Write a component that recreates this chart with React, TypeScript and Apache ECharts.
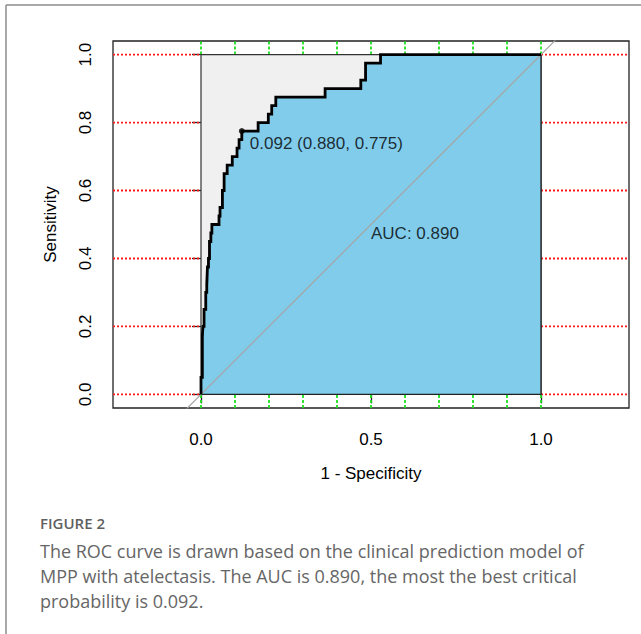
import React, { useEffect, useRef } from "react";
import * as echarts from "echarts";

// ROC curve vertices (1 - specificity, sensitivity)
const rocFpr = [0, 0, 0.004, 0.004, 0.006, 0.006, 0.009, 0.009, 0.014, 0.014, 0.017, 0.017, 0.019, 0.019, 0.022, 0.022, 0.025, 0.025, 0.029, 0.029, 0.032, 0.032, 0.053, 0.053, 0.056, 0.056, 0.063, 0.063, 0.068, 0.068, 0.077, 0.077, 0.092, 0.092, 0.106, 0.106, 0.112, 0.112, 0.12, 0.12, 0.168, 0.168, 0.198, 0.198, 0.208, 0.208, 0.22, 0.22, 0.365, 0.365, 0.47, 0.47, 0.484, 0.484, 0.528, 0.528, 1];
const rocTpr = [0, 0.05, 0.05, 0.175, 0.175, 0.2, 0.2, 0.25, 0.25, 0.3, 0.3, 0.325, 0.325, 0.375, 0.375, 0.4, 0.4, 0.45, 0.45, 0.475, 0.475, 0.5, 0.5, 0.525, 0.525, 0.55, 0.55, 0.6, 0.6, 0.65, 0.65, 0.675, 0.675, 0.7, 0.7, 0.725, 0.725, 0.75, 0.75, 0.775, 0.775, 0.8, 0.8, 0.825, 0.825, 0.85, 0.85, 0.875, 0.875, 0.9, 0.9, 0.925, 0.925, 0.975, 0.975, 1, 1];

// max AUC square
const squareX = [0, 0, 1, 1];
const squareY = [0, 1, 1, 0];

// best threshold
const bestThreshold = 0.092;
const bestSpecificity = 0.88;
const bestSensitivity = 0.775;
const aucValue = 0.89;

// ticks and grid
const xTickValues = [0, 0.5, 1.0];
const yTickValues = [0, 0.2, 0.4, 0.6, 0.8, 1.0];
const xGridValues = [0, 0.1, 0.2, 0.3, 0.4, 0.5, 0.6, 0.7, 0.8, 0.9, 1.0];
const yGridValues = [0, 0.2, 0.4, 0.6, 0.8, 1.0];
const diagonalX = [-0.2, 1.2];

const xAxisTitle = "1 - Specificity";
const yAxisTitle = "Sensitivity";

const captionTitle = "FIGURE 2";
const captionLines = [
  "The ROC curve is drawn based on the clinical prediction model of",
  "MPP with atelectasis. The AUC is 0.890, the most the best critical",
  "probability is 0.092.",
];

const X_MIN = -0.2588;
const X_MAX = 1.2588;
const Y_MIN = -0.04;
const Y_MAX = 1.04;

export default function App() {
  const ref = useRef<HTMLDivElement>(null);

  useEffect(() => {
    document.body.style.margin = "0";
    const chart = echarts.init(ref.current!, null, { renderer: "svg" });
    const FONT = "'Liberation Sans', Arial, sans-serif";
    const CAP_FONT = "'Open Sans', 'Noto Sans', sans-serif";

    // grid lines: the max-AUC square hides their middle part, so only the
    // visible pieces outside the unit square are drawn
    const gridSeries: any[] = [];
    const redStyle = { color: "#ff1a1a", width: 1.8, type: [2, 2] };
    const greenStyle = { color: "#1ee01e", width: 1.8, type: [3, 2] };
    yGridValues.forEach((v) => {
      [[[X_MIN, v], [0, v]], [[1, v], [X_MAX, v]]].forEach((seg) => {
        gridSeries.push({
          type: "line",
          data: seg,
          symbol: "none",
          silent: true,
          z: 1,
          lineStyle: redStyle,
        });
      });
    });
    xGridValues.forEach((v) => {
      [[[v, Y_MIN], [v, 0]], [[v, 1], [v, Y_MAX]]].forEach((seg) => {
        gridSeries.push({
          type: "line",
          data: seg,
          symbol: "none",
          silent: true,
          z: 1,
          lineStyle: greenStyle,
        });
      });
    });

    const polyXs = [...rocFpr, 1];
    const polyYs = [...rocTpr, 0];

    const option: any = {
      animation: false,
      backgroundColor: "#ffffff",
      grid: {
        left: 113,
        top: 41,
        width: 516,
        height: 367,
        show: true,
        borderColor: "#222",
        borderWidth: 1.3,
        backgroundColor: "transparent",
      },
      xAxis: {
        type: "value",
        min: X_MIN,
        max: X_MAX,
        axisLine: { show: false },
        splitLine: { show: false },
        axisTick: {
          show: true,
          inside: false,
          length: 9,
          customValues: xTickValues,
          lineStyle: { color: "#222", width: 1.3 },
        },
        axisLabel: {
          customValues: xTickValues,
          formatter: (v: number) => v.toFixed(1),
          fontSize: 17,
          fontFamily: FONT,
          color: "#000",
          margin: 23,
        },
        name: xAxisTitle,
        nameLocation: "middle",
        nameGap: 57,
        nameTextStyle: { fontSize: 17, fontFamily: FONT, color: "#000" },
      },
      yAxis: {
        type: "value",
        min: Y_MIN,
        max: Y_MAX,
        axisLine: { show: false },
        splitLine: { show: false },
        axisTick: {
          show: true,
          inside: false,
          length: 9,
          customValues: yTickValues,
          lineStyle: { color: "#222", width: 1.3 },
        },
        axisLabel: {
          customValues: yTickValues,
          formatter: (v: number) => v.toFixed(1),
          fontSize: 17,
          fontFamily: FONT,
          color: "#000",
          rotate: 90,
          margin: 19,
        },
        name: yAxisTitle,
        nameLocation: "middle",
        nameGap: 54,
        nameTextStyle: { fontSize: 17, fontFamily: FONT, color: "#000" },
      },
      series: [
        ...gridSeries,
        {
          type: "custom",
          z: 2,
          silent: true,
          data: [[0, 0]],
          renderItem: (_p: any, api: any) => {
            const pts = squareX.map((x, i) => api.coord([x, squareY[i]]));
            return {
              type: "polygon",
              shape: { points: pts },
              style: { fill: "#f0f0f0", stroke: "#333", lineWidth: 1.2 },
            };
          },
        },
        {
          type: "custom",
          z: 3,
          silent: true,
          data: [[0, 0]],
          renderItem: (_p: any, api: any) => {
            const pts = polyXs.map((x, i) => api.coord([x, polyYs[i]]));
            return {
              type: "polygon",
              shape: { points: pts },
              style: { fill: "#82cceb", stroke: "#222", lineWidth: 1.3 },
            };
          },
        },
        {
          type: "line",
          z: 4,
          silent: true,
          symbol: "none",
          data: diagonalX.map((x) => [x, x]),
          lineStyle: { color: "#a6a6a6", width: 1.2 },
        },
        {
          type: "line",
          z: 5,
          silent: true,
          symbol: "none",
          data: rocFpr.map((x, i) => [x, rocTpr[i]]),
          lineStyle: { color: "#000", width: 2.8, join: "miter" },
        },
        {
          type: "scatter",
          z: 6,
          silent: true,
          symbol: "circle",
          symbolSize: 6,
          itemStyle: { color: "#000" },
          data: [[1 - bestSpecificity, bestSensitivity]],
          label: {
            show: true,
            position: [11, 7],
            align: "left",
            verticalAlign: "top",
            fontSize: 17,
            fontFamily: FONT,
            color: "#000",
            formatter: () =>
              `${bestThreshold.toFixed(3)} (${bestSpecificity.toFixed(3)}, ${bestSensitivity.toFixed(3)})`,
          },
        },
        {
          type: "scatter",
          z: 6,
          silent: true,
          symbolSize: 0,
          data: [[0.5, 0.5]],
          label: {
            show: true,
            position: [0, 0],
            align: "left",
            verticalAlign: "top",
            fontSize: 17,
            fontFamily: FONT,
            color: "#000",
            formatter: () => `AUC: ${aucValue.toFixed(3)}`,
          },
        },
      ],
      graphic: [
        {
          type: "line",
          shape: { x1: 6, y1: 5, x2: 641, y2: 5 },
          style: { stroke: "#8c8c8c", lineWidth: 1.5 },
        },
        {
          type: "line",
          shape: { x1: 6, y1: 5, x2: 6, y2: 634 },
          style: { stroke: "#8c8c8c", lineWidth: 1.5 },
        },
        {
          type: "text",
          x: 40,
          y: 523,
          style: {
            text: captionTitle,
            font: `600 15px ${CAP_FONT}`,
            fill: "#5f5f5f",
            align: "left",
            verticalAlign: "middle",
          },
        },
        ...captionLines.map((t, i) => ({
          type: "text",
          x: 40,
          y: 551 + i * 25,
          style: {
            text: t,
            font: `18px ${CAP_FONT}`,
            fill: "#666666",
            align: "left",
            verticalAlign: "middle",
          },
        })),
      ],
    };

    chart.setOption(option);
    return () => chart.dispose();
  }, []);

  return <div ref={ref} style={{ width: 641, height: 634 }} />;
}
